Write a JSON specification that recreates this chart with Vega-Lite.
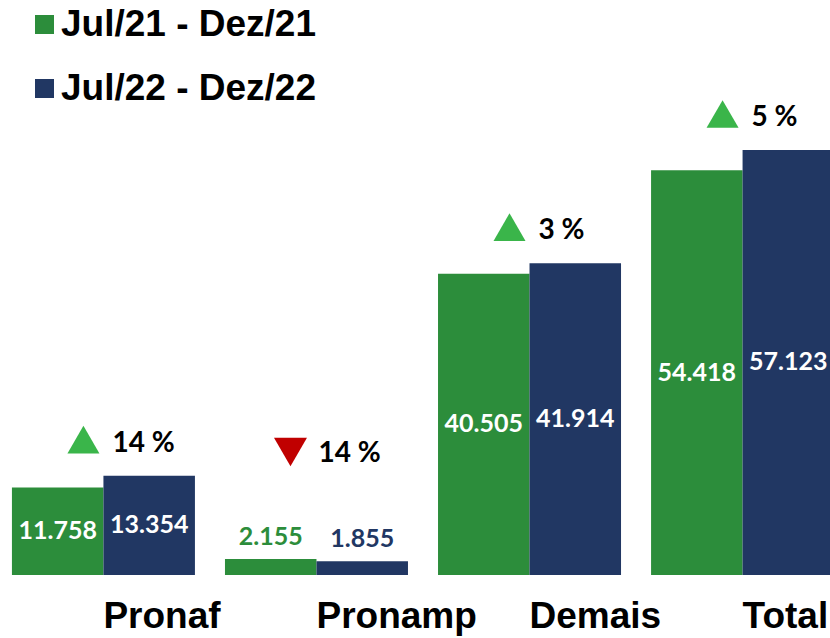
{
  "$schema": "https://vega.github.io/schema/vega-lite/v6.json",
  "width": 846,
  "height": 575,
  "autosize": {"type": "none"},
  "padding": {"left": 0, "top": 0, "right": -16, "bottom": 63},
  "background": "white",
  "config": {"view": {"stroke": null}},
  "data": {
    "values": [
      {"cat": "Pronaf", "serie": "Jul/21 - Dez/21", "value": 11758, "label": "11.758", "change": "14 %", "dir": "up"},
      {"cat": "Pronaf", "serie": "Jul/22 - Dez/22", "value": 13354, "label": "13.354", "change": "14 %", "dir": "up"},
      {"cat": "Pronamp", "serie": "Jul/21 - Dez/21", "value": 2155, "label": "2.155", "change": "14 %", "dir": "down"},
      {"cat": "Pronamp", "serie": "Jul/22 - Dez/22", "value": 1855, "label": "1.855", "change": "14 %", "dir": "down"},
      {"cat": "Demais", "serie": "Jul/21 - Dez/21", "value": 40505, "label": "40.505", "change": "3 %", "dir": "up"},
      {"cat": "Demais", "serie": "Jul/22 - Dez/22", "value": 41914, "label": "41.914", "change": "3 %", "dir": "up"},
      {"cat": "Total", "serie": "Jul/21 - Dez/21", "value": 54418, "label": "54.418", "change": "5 %", "dir": "up"},
      {"cat": "Total", "serie": "Jul/22 - Dez/22", "value": 57123, "label": "57.123", "change": "5 %", "dir": "up"}
    ]
  },
  "encoding": {
    "x": {
      "field": "cat",
      "type": "nominal",
      "sort": ["Pronaf", "Pronamp", "Demais", "Total"],
      "scale": {"paddingInner": 0.141, "paddingOuter": 0.056},
      "title": null,
      "axis": {
        "domain": false,
        "ticks": false,
        "labelAngle": 0,
        "labelAlign": "left",
        "labelBaseline": "top",
        "labelPadding": 23,
        "labelFont": "Liberation Sans",
        "labelFontWeight": "bold",
        "labelFontSize": 37,
        "labelColor": "#000000",
        "labelOverlap": false,
        "labelLimit": 0
      }
    }
  },
  "resolve": {"scale": {"y": "independent"}},
  "layer": [
    {
      "layer": [
        {
          "mark": {"type": "bar"},
          "encoding": {
            "xOffset": {"field": "serie", "type": "nominal"},
            "y": {"field": "value", "type": "quantitative", "scale": {"domain": [0, 77284], "nice": false}, "axis": null},
            "color": {
              "field": "serie",
              "type": "nominal",
              "scale": {"domain": ["Jul/21 - Dez/21", "Jul/22 - Dez/22"], "range": ["#2C8D3B", "#213763"]},
              "legend": {
                "orient": "none",
                "legendX": 26,
                "legendY": 6,
                "title": null,
                "symbolType": "square",
                "symbolSize": 361,
                "symbolStrokeWidth": 0,
                "symbolOpacity": 1,
                "labelFont": "Liberation Sans",
                "labelFontSize": 37,
                "labelFontWeight": "bold",
                "labelColor": "#000000",
                "labelOffset": -2,
                "rowPadding": 26,
                "padding": 0,
                "labelLimit": 0
              }
            }
          }
        },
        {
          "transform": [{"filter": "datum.value <= 5000"}],
          "mark": {"type": "text", "font": "Lato", "fontWeight": "bold", "fontSize": 25, "baseline": "middle", "align": "center", "yOffset": -22},
          "encoding": {
            "xOffset": {"field": "serie", "type": "nominal"},
            "y": {"field": "value", "type": "quantitative"},
            "color": {"field": "serie", "type": "nominal"},
            "text": {"field": "label"}
          }
        },
        {
          "transform": [
            {"aggregate": [{"op": "max", "field": "value", "as": "value"}], "groupby": ["cat", "change", "dir"]},
            {"filter": "datum.dir == 'up'"}
          ],
          "layer": [
            {
              "mark": {"type": "point", "shape": "triangle-up", "size": 1024, "filled": true, "opacity": 1, "color": "#3AB54A", "xOffset": -20, "yOffset": -36},
              "encoding": {"y": {"field": "value", "type": "quantitative"}}
            },
            {
              "mark": {"type": "text", "font": "Lato", "fontWeight": "bold", "fontSize": 28, "color": "#000000", "align": "left", "baseline": "middle", "dx": 9, "yOffset": -32},
              "encoding": {"y": {"field": "value", "type": "quantitative"}, "text": {"field": "change"}}
            }
          ]
        },
        {
          "transform": [
            {"aggregate": [{"op": "max", "field": "value", "as": "value"}], "groupby": ["cat", "change", "dir"]},
            {"filter": "datum.dir == 'down'"}
          ],
          "layer": [
            {
              "mark": {"type": "point", "shape": "triangle-down", "size": 1089, "filled": true, "opacity": 1, "color": "#C00000", "xOffset": -26, "yOffset": -107},
              "encoding": {"y": {"field": "value", "type": "quantitative"}}
            },
            {
              "mark": {"type": "text", "font": "Lato", "fontWeight": "bold", "fontSize": 28, "color": "#000000", "align": "left", "baseline": "middle", "dx": 2, "yOffset": -105},
              "encoding": {"y": {"field": "value", "type": "quantitative"}, "text": {"field": "change"}}
            }
          ]
        }
      ]
    },
    {
      "transform": [{"filter": "datum.value > 5000"}],
      "mark": {"type": "text", "font": "Lato", "fontWeight": "bold", "fontSize": 25, "color": "white", "baseline": "middle", "align": "center"},
      "encoding": {
        "xOffset": {"field": "serie", "type": "nominal"},
        "y": {"field": "value", "type": "quantitative", "scale": {"domain": [0, 154568], "nice": false}, "axis": null},
        "text": {"field": "label"}
      }
    }
  ]
}
